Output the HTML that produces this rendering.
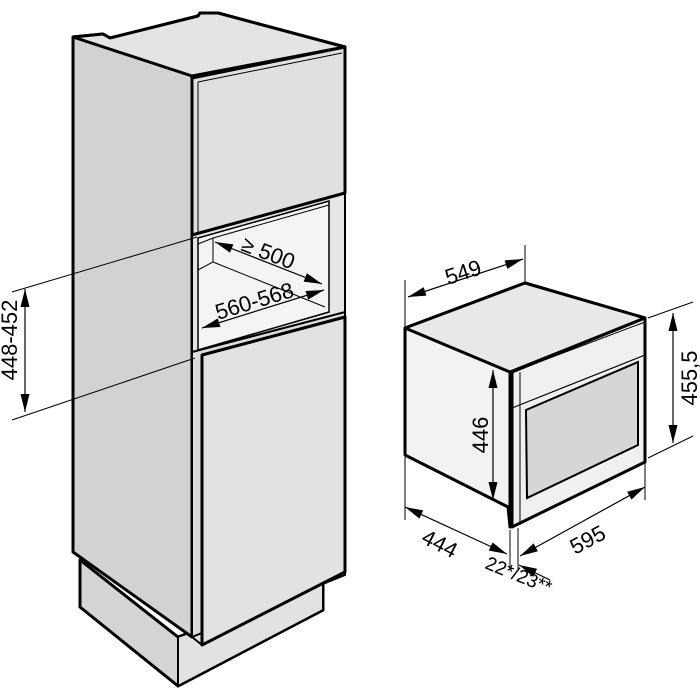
<!DOCTYPE html>
<html><head><style>html,body{margin:0;padding:0;background:#fff}svg{display:block}</style></head>
<body>
<svg width="700" height="700" viewBox="0 0 700 700" xmlns="http://www.w3.org/2000/svg" font-family="Liberation Sans, sans-serif">
<defs>
<marker id="b" viewBox="0 0 20 10" refX="20" refY="5" markerWidth="18" markerHeight="9" orient="auto-start-reverse" markerUnits="userSpaceOnUse"><path d="M0,0 L20,5 L0,10z" fill="#000"/></marker>
</defs>
<polygon points="80,560 178,637 323,583 323,610 178,686 80,607" fill="#d4d4d4" stroke="#000" stroke-width="3" stroke-linejoin="round"/>
<polygon points="178,637 323,583 323,610 178,686" fill="#e2e2e2" stroke="#000" stroke-width="2"/>
<line x1="178" y1="637" x2="178" y2="686" stroke="#000" stroke-width="1.5"/>
<polygon points="73,37 103,34 110,38 198,16 200,13 218,13 345,47 192,76 192,637 73,552" fill="#d2d2d2" stroke="#000" stroke-width="3" stroke-linejoin="round"/>
<polygon points="73,37 103,34 110,38 198,16 200,13 218,13 345,47 192,76" fill="#e4e4e4" stroke="#000" stroke-width="3" stroke-linejoin="round"/>
<polygon points="192,235 345,193 345,315 192,357" fill="#e6e6e6" stroke="#000" stroke-width="2"/>
<polygon points="198,238 329,201 329,312 198,350" fill="#f4f4f4" stroke="#000" stroke-width="1.5"/>
<polyline points="198,244 213,238 213,262 198,270" fill="none" stroke="#000" stroke-width="1"/>
<line x1="213" y1="262" x2="325" y2="307" stroke="#000" stroke-width="1"/>
<line x1="213" y1="238" x2="329" y2="205" stroke="#000" stroke-width="1"/>
<polygon points="192,78 345,47 345,193 192,235" fill="#e0e0e0" stroke="#000" stroke-width="3" stroke-linejoin="round"/>
<line x1="198" y1="82" x2="342" y2="53" stroke="#000" stroke-width="1"/>
<line x1="198" y1="82" x2="198" y2="233" stroke="#000" stroke-width="1"/>
<polygon points="192,352 345,312 345,575 192,637" fill="#dcdcdc" stroke="#000" stroke-width="2"/>
<polygon points="202,355 345,317 345,572 202,645" fill="#e2e2e2" stroke="#000" stroke-width="3" stroke-linejoin="round"/>
<line x1="192" y1="637" x2="202" y2="645" stroke="#000" stroke-width="2"/>
<line x1="215" y1="242" x2="322" y2="284" stroke="#000" stroke-width="1.2" marker-start="url(#b)" marker-end="url(#b)"/>
<text x="0" y="0" font-size="22" transform="translate(240,250) rotate(21)">≥ 500</text>
<line x1="202" y1="328" x2="324" y2="290" stroke="#000" stroke-width="1.2" marker-start="url(#b)" marker-end="url(#b)"/>
<text x="0" y="0" font-size="22" transform="translate(218,320) rotate(-17)">560-568</text>
<line x1="12" y1="292" x2="197" y2="237" stroke="#000" stroke-width="1"/>
<line x1="12" y1="420" x2="195" y2="358" stroke="#000" stroke-width="1"/>
<line x1="25" y1="289" x2="25" y2="412" stroke="#000" stroke-width="1.2" marker-start="url(#b)" marker-end="url(#b)"/>
<text x="0" y="0" font-size="22" text-anchor="middle" transform="translate(17,340) rotate(-90)">448-452</text>
<polygon points="405,328 525,283 645,318 510,372 510,527 508,507 405,455" fill="#f2f2f2" stroke="#000" stroke-width="3" stroke-linejoin="round"/>
<polygon points="405,328 525,283 645,318 510,372" fill="#e8e8e8" stroke="#000" stroke-width="3" stroke-linejoin="round"/>
<polygon points="512,372 645,318 645,462 512,527" fill="#f0f0f0" stroke="#000" stroke-width="3" stroke-linejoin="round"/>
<line x1="520" y1="372" x2="520" y2="525" stroke="#000" stroke-width="1"/>
<line x1="518" y1="370" x2="645" y2="322" stroke="#000" stroke-width="1"/>
<line x1="512" y1="408" x2="645" y2="355" stroke="#000" stroke-width="1.2"/>
<polygon points="526,410 638,362 638,445 527,498" fill="#d6d6d6" stroke="#000" stroke-width="2"/>
<line x1="405" y1="280" x2="405" y2="328" stroke="#000" stroke-width="1"/>
<line x1="525" y1="245" x2="525" y2="283" stroke="#000" stroke-width="1"/>
<line x1="408" y1="297" x2="523" y2="259" stroke="#000" stroke-width="1.2" marker-start="url(#b)" marker-end="url(#b)"/>
<text x="0" y="0" font-size="22" transform="translate(448,285) rotate(-18)">549</text>
<line x1="648" y1="318" x2="693" y2="302" stroke="#000" stroke-width="1"/>
<line x1="648" y1="458" x2="693" y2="436" stroke="#000" stroke-width="1"/>
<line x1="673" y1="313" x2="673" y2="443" stroke="#000" stroke-width="1.2" marker-start="url(#b)" marker-end="url(#b)"/>
<text x="0" y="0" font-size="22" text-anchor="middle" transform="translate(697,378) rotate(-90)">455,5</text>
<line x1="493" y1="370" x2="493" y2="500" stroke="#000" stroke-width="1.2" marker-start="url(#b)" marker-end="url(#b)"/>
<text x="0" y="0" font-size="22" text-anchor="middle" transform="translate(488,435) rotate(-90)">446</text>
<line x1="405" y1="457" x2="405" y2="520" stroke="#000" stroke-width="1"/>
<line x1="510" y1="530" x2="510" y2="570" stroke="#000" stroke-width="1"/>
<line x1="518" y1="528" x2="518" y2="570" stroke="#000" stroke-width="1"/>
<line x1="645" y1="462" x2="645" y2="500" stroke="#000" stroke-width="1"/>
<line x1="405" y1="507" x2="507" y2="554" stroke="#000" stroke-width="1.2" marker-start="url(#b)" marker-end="url(#b)"/>
<text x="0" y="0" font-size="22" transform="translate(420,542) rotate(27)">444</text>
<line x1="520" y1="556" x2="645" y2="487" stroke="#000" stroke-width="1.2" marker-start="url(#b)" marker-end="url(#b)"/>
<text x="0" y="0" font-size="22" transform="translate(575,555) rotate(-28)">595</text>
<line x1="519" y1="565" x2="550" y2="580" stroke="#000" stroke-width="1.2" marker-start="url(#b)"/>
<text x="0" y="0" font-size="19" transform="translate(484,568) rotate(22)">22*/23**</text>
</svg>
</body></html>
